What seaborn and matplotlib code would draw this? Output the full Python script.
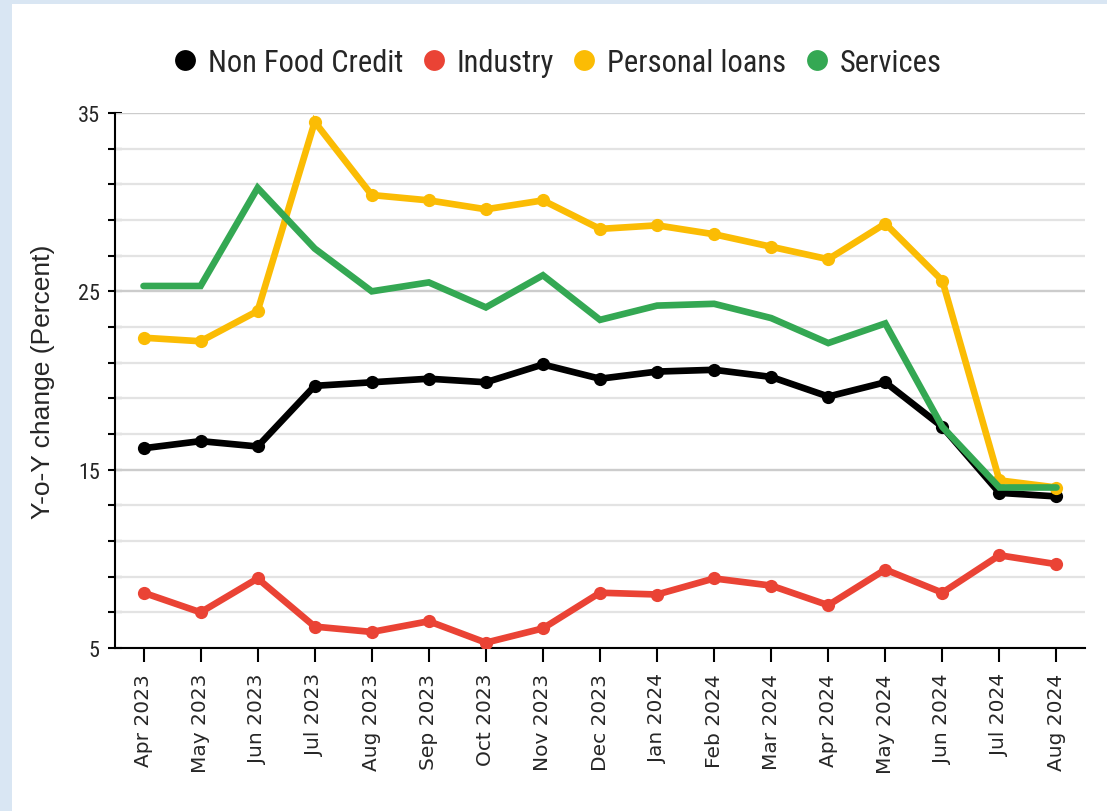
import matplotlib
matplotlib.use("Agg")
import matplotlib.pyplot as plt
from matplotlib.lines import Line2D
from matplotlib.patches import Rectangle
import seaborn as sns
import pandas as pd

months = ["Apr 2023", "May 2023", "Jun 2023", "Jul 2023", "Aug 2023", "Sep 2023",
          "Oct 2023", "Nov 2023", "Dec 2023", "Jan 2024", "Feb 2024", "Mar 2024",
          "Apr 2024", "May 2024", "Jun 2024", "Jul 2024", "Aug 2024"]

non_food_credit = [16.2, 16.6, 16.3, 19.7, 19.9, 20.1, 19.9, 20.9, 20.1, 20.5,
                   20.6, 20.2, 19.1, 19.9, 17.4, 13.7, 13.5]
industry = [8.1, 7.0, 8.9, 6.2, 5.9, 6.5, 5.3, 6.1, 8.1, 8.0,
            8.9, 8.5, 7.4, 9.4, 8.1, 10.2, 9.7]
personal_loans = [22.4, 22.2, 23.9, 34.5, 30.4, 30.1, 29.6, 30.1, 28.5, 28.7,
                  28.2, 27.5, 26.8, 28.8, 25.6, 14.4, 14.0]
services = [25.3, 25.3, 30.8, 27.4, 25.0, 25.5, 24.1, 25.9, 23.4, 24.2,
            24.3, 23.5, 22.1, 23.2, 17.4, 14.0, 14.0]

series_names = ["Non Food Credit", "Industry", "Personal loans", "Services"]
series_values = [non_food_credit, industry, personal_loans, services]
colors = ["#000000", "#ea4335", "#fbbc04", "#34a853"]

df = pd.DataFrame({
    "month": months * len(series_names),
    "idx": list(range(len(months))) * len(series_names),
    "series": [s for s in series_names for _ in months],
    "value": [v for vals in series_values for v in vals],
})

sns.set_theme(style="white")
narrow = ["Roboto Condensed", "Liberation Sans"]
plt.rcParams["font.family"] = ["Liberation Sans", "DejaVu Sans"]

fig = plt.figure(figsize=(11.07, 8.12), dpi=100)
fig.patch.set_facecolor("white")
# light blue frame strips
fig.patches.append(Rectangle((0, 0), 12 / 1107, 1, transform=fig.transFigure,
                             facecolor="#d9e6f3", edgecolor="none", zorder=0))
fig.patches.append(Rectangle((0, 1 - 5 / 812), 1, 5 / 812, transform=fig.transFigure,
                             facecolor="#d9e6f3", edgecolor="none", zorder=0))

ax = fig.add_axes([115 / 1107, 1 - 649 / 812, (1085 - 115) / 1107, (649 - 114) / 812])

for name, col in zip(series_names, colors):
    sub = df[df["series"] == name]
    has_marker = name != "Services"
    sns.lineplot(data=sub, x="idx", y="value", ax=ax, color=col, lw=4.8,
                 marker="o" if has_marker else None, markersize=9.5,
                 markeredgewidth=0, solid_capstyle="round",
                 solid_joinstyle="miter", legend=False, zorder=3)

ax.set_xlim(-0.5, len(months) - 0.5)
ax.set_ylim(5, 35)
ax.set_xticks(range(len(months)))
ax.set_xticklabels(months, rotation=90, fontsize=14.5, family=["DejaVu Sans"])
ax.set_yticks([5, 15, 25, 35])
ax.set_yticklabels(["5", "15", "25", "35"], fontsize=16, family=narrow)
ax.set_yticks(list(range(5, 36, 2)), minor=True)

for y in range(5, 36, 2):
    ax.axhline(y, color="#e3e3e3", lw=1.6, zorder=1)
for y in [15, 25, 35]:
    ax.axhline(y, color="#cccccc", lw=1.6, zorder=1)

ax.tick_params(axis="y", which="both", direction="inout", length=10, width=1.5,
               color="black", left=True, pad=6)
ax.tick_params(axis="x", direction="out", length=10, width=1.5, color="black",
               bottom=True, pad=8)
for side in ["top", "right"]:
    ax.spines[side].set_visible(False)
for side in ["left", "bottom"]:
    ax.spines[side].set_color("black")
    ax.spines[side].set_linewidth(1.5)
ax.set_xlabel("")
ax.set_ylabel("Y-o-Y change (Percent)", fontsize=19)
ax.yaxis.set_label_coords(-0.062, 0.5)
ax.set_facecolor("white")

handles = [Line2D([], [], ls="none", marker="o", markersize=15, color=c,
                  markeredgewidth=0) for c in colors]
fig.legend(handles, series_names, loc="center", bbox_to_anchor=(0.502, 1 - 63 / 812),
           ncol=4, frameon=False, prop={"family": narrow, "size": 22},
           handletextpad=0.25, columnspacing=0.5, handlelength=1.0)

fig.savefig("out.png", dpi=100, facecolor="white")
